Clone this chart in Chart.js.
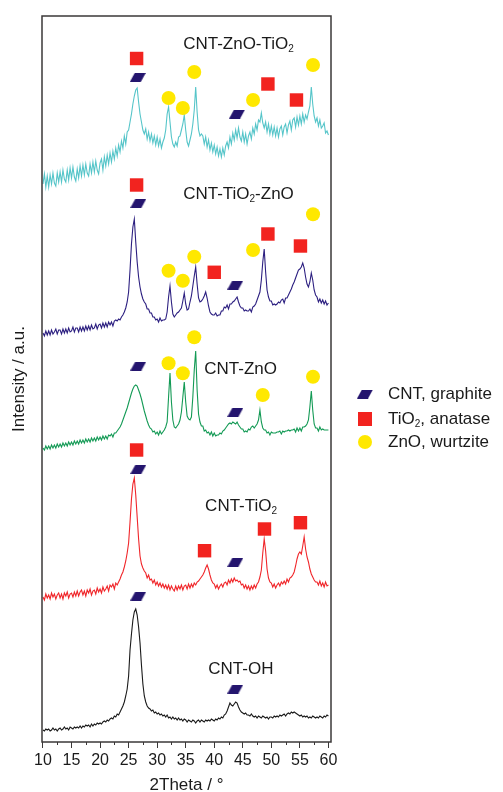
<!DOCTYPE html>
<html>
<head>
<meta charset="utf-8">
<script src="https://cdn.jsdelivr.net/npm/chart.js@4.4.1/dist/chart.umd.min.js"></script>
<style>
  html, body { margin: 0; padding: 0; background: #fff; }
  #wrap { width: 503px; height: 792px; }
</style>
</head>
<body>
<div id="wrap"><canvas id="xrd" width="503" height="792"></canvas></div>
<script>
// 2Theta grid (degrees)
const twoTheta = [
  10,10.25,10.5,10.75, 11,11.25,11.5,11.75, 12,12.25,12.5,12.75, 13,13.25,13.5,13.75,
  14,14.25,14.5,14.75, 15,15.25,15.5,15.75, 16,16.25,16.5,16.75, 17,17.25,17.5,17.75,
  18,18.25,18.5,18.75, 19,19.25,19.5,19.75, 20,20.25,20.5,20.75, 21,21.25,21.5,21.75,
  22,22.25,22.5,22.75, 23,23.25,23.5,23.75, 24,24.25,24.5,24.75, 25,25.25,25.5,25.75,
  26,26.25,26.5,26.75, 27,27.25,27.5,27.75, 28,28.25,28.5,28.75, 29,29.25,29.5,29.75,
  30,30.25,30.5,30.75, 31,31.25,31.5,31.75, 32,32.25,32.5,32.75, 33,33.25,33.5,33.75,
  34,34.25,34.5,34.75, 35,35.25,35.5,35.75, 36,36.25,36.5,36.75, 37,37.25,37.5,37.75,
  38,38.25,38.5,38.75, 39,39.25,39.5,39.75, 40,40.25,40.5,40.75, 41,41.25,41.5,41.75,
  42,42.25,42.5,42.75, 43,43.25,43.5,43.75, 44,44.25,44.5,44.75, 45,45.25,45.5,45.75,
  46,46.25,46.5,46.75, 47,47.25,47.5,47.75, 48,48.25,48.5,48.75, 49,49.25,49.5,49.75,
  50,50.25,50.5,50.75, 51,51.25,51.5,51.75, 52,52.25,52.5,52.75, 53,53.25,53.5,53.75,
  54,54.25,54.5,54.75, 55,55.25,55.5,55.75, 56,56.25,56.5,56.75, 57,57.25,57.5,57.75,
  58,58.25,58.5,58.75, 59,59.25,59.5,59.75, 60
];

// stacked intensities (a.u., offset per sample)
const cntOH = [
  12,11,13,12, 13,11,12,14, 12,13,11,13, 14,12,13,15, 13,14,12,15, 14,13,15,14,
  15,14,16,14, 16,15,17,16, 17,15,18,16, 18,17,19,18, 19,18,20,21, 20,22,21,23,
  24,23,26,25, 28,27,30,33, 36,40,46,53, 66,92,108,122, 130,133,127,115, 99,77,58,46,
  40,36,34,33, 31,32,29,30, 28,29,27,28, 26,27,25,27, 24,25,23,25, 23,24,22,24,
  22,23,21,23, 22,20,22,21, 20,22,21,19, 21,22,20,22, 21,20,22,21, 22,21,23,22,
  21,23,22,24, 23,25,24,27, 28,31,35,39, 37,36,38,40, 39,35,32,30, 29,28,29,27,
  27,26,28,26, 25,26,24,26, 25,24,26,25, 24,25,23,25, 25,24,26,25, 26,25,27,26,
  27,28,26,28, 29,28,30,29, 30,29,28,27, 26,27,25,26, 25,26,24,25, 24,26,25,24,
  25,24,26,25, 24,26,25,27, 26
];

const cntTiO2 = [
  145,142,148,144, 147,143,149,145, 148,143,147,149, 144,148,143,149, 146,150,144,148,
  149,145,150,146, 151,146,150,152, 147,151,146,152, 149,153,147,151, 152,148,154,150,
  153,149,155,151, 153,156,151,157, 155,158,153,159, 157,160,163,167, 170,175,181,189,
  199,220,243,258, 264,247,225,203, 186,178,174,171, 169,164,167,162, 163,159,162,157,
  160,156,159,155, 158,154,157,153, 157,152,156,153, 151,156,152,156, 153,157,152,156,
  157,153,158,154, 158,155,159,157, 160,161,163,165, 167,170,174,177, 173,167,162,159,
  158,154,157,153, 156,158,155,159, 160,157,162,159, 163,160,164,161, 162,160,161,157,
  158,154,157,153, 156,152,156,153, 157,154,158,160, 165,172,189,203, 191,173,164,160,
  159,155,158,154, 157,159,156,160, 158,161,158,163, 160,164,165,167, 170,176,183,188,
  190,188,196,205, 193,185,180,173, 168,165,162,160, 160,157,161,156, 159,155,160,156,
  157
];

const cntZnO = [
  294,292,296,293, 296,293,297,294, 297,294,298,295, 298,295,299,296, 299,296,300,297,
  300,297,301,298, 301,298,302,299, 302,299,303,300, 303,300,304,301, 304,301,305,302,
  305,302,306,303, 306,303,307,306, 308,305,309,309, 311,313,315,318, 322,326,330,334,
  339,344,349,353, 356,357,356,352, 348,343,337,331, 326,321,317,314, 313,310,311,308,
  310,307,311,308, 310,312,315,320, 345,369,340,322, 315,314,316,318, 322,330,345,360,
  340,326,323,322, 325,345,372,391, 352,328,320,316, 316,311,312,309, 310,307,310,306,
  309,306,307,307, 309,308,311,312, 314,316,318,319, 318,320,319,318, 320,317,315,313,
  313,310,311,310, 313,312,315,316, 314,316,318,322, 332,320,314,312, 312,309,310,307,
  310,309,309,309, 310,310,311,308, 311,310,311,311, 312,311,312,312, 313,310,314,311,
  314,311,315,315, 316,318,322,335, 351,332,318,314, 314,311,315,312, 313,312,312,312,
  312
];

const cntTiO2ZnO = [
  409,406,411,407, 411,407,412,408, 410,413,408,412, 412,408,413,409, 413,409,414,410,
  411,415,410,414, 414,410,415,411, 415,411,416,412, 416,412,417,413, 414,418,413,417,
  418,414,419,415, 419,415,420,417, 420,416,421,422, 421,423,422,425, 427,430,434,440,
  450,472,498,515, 523,500,480,465, 455,448,443,440, 438,433,433,429, 429,425,425,422,
  423,420,424,421, 422,422,423,430, 445,456,440,428, 425,427,429,430, 432,434,441,449,
  438,432,433,440, 446,456,466,475, 458,444,440,441, 443,446,450,444, 436,430,428,427,
  427,429,426,427, 427,431,431,435, 434,437,433,438, 438,440,441,443, 445,440,436,434,
  434,431,432,431, 431,433,430,435, 436,438,442,446, 450,462,480,493, 470,452,445,441,
  441,437,438,437, 438,440,439,442, 443,439,444,444, 447,450,453,457, 460,464,468,472,
  473,475,479,474, 465,458,455,460, 469,462,452,447, 445,440,443,439, 442,438,441,437,
  439
];

const cntZnOTiO2 = [
  558,568,555,566, 555,567,558,569, 559,556,569,560, 570,560,572,563, 560,572,562,574,
  564,575,565,561, 573,564,576,566, 577,567,578,569, 566,578,569,580, 570,581,572,568,
  579,583,572,585, 576,587,578,589, 580,591,583,594, 586,597,590,601, 594,606,598,610,
  612,620,628,638, 646,652,654,640, 628,620,612,608, 613,603,610,601, 608,599,606,597,
  605,596,603,594, 600,604,612,628, 635,620,605,598, 595,600,596,605, 606,612,618,627,
  612,600,596,602, 608,618,632,655, 630,612,606,608, 606,598,605,595, 602,592,599,590,
  597,588,595,586, 593,585,594,587, 596,600,594,605, 598,609,602,612, 604,614,605,601,
  610,600,608,598, 606,610,603,614, 608,618,612,622, 620,629,619,614, 620,610,618,608,
  616,607,615,606, 614,605,613,616, 607,615,618,609, 617,621,612,622, 624,615,625,617,
  626,618,628,620, 627,623,630,636, 655,638,626,620, 624,616,622,614, 616,619,609,611,
  607
];

// phase markers [2Theta, height]
const graphiteMarks = [
  [26.6, 664.5], [44.0, 628],
  [26.7, 538.7], [43.7, 457],
  [26.7, 376], [43.7, 329.7],
  [26.7, 272.7], [43.7, 179.7],
  [26.7, 146], [43.7, 53]
];
const anataseMarks = [
  [26.4, 683.5], [49.4, 658], [54.4, 642],
  [26.4, 557], [40.0, 469.7], [49.4, 508], [55.1, 496],
  [26.4, 292], [38.3, 191.3], [48.8, 213], [55.1, 219.3]
];
const wurtziteMarks = [
  [32.0, 644], [34.5, 634], [36.5, 670], [46.8, 642], [57.3, 677],
  [32.0, 471.3], [34.5, 461.3], [36.5, 485.3], [46.8, 492], [57.3, 527.7],
  [32.0, 378.7], [34.5, 368.7], [36.5, 404.7], [48.5, 347], [57.3, 365.3]
];

const sampleNames = ['CNT-OH', 'CNT-TiO_2', 'CNT-ZnO', 'CNT-TiO_2-ZnO', 'CNT-ZnO-TiO_2'];
const sampleColors = ['#1a1a1a', '#f0262a', '#139a55', '#2c1f80', '#55c5c9'];
const legendNames = ['CNT, graphite', 'TiO_2, anatase', 'ZnO, wurtzite'];

const FONT = '"Liberation Sans", Arial, Helvetica, sans-serif';
const NAVY = '#24156e';
const RED = '#f2231f';
const YELLOW = '#ffe800';

// where the sample names sit (data coords)
const nameSpots = [
  { x: 38.95, y: 73 },
  { x: 38.4, y: 236 },
  { x: 38.25, y: 373 },
  { x: 34.55, y: 548 },
  { x: 34.55, y: 698 }
];

// parallelogram marker for graphite
const para = document.createElement('canvas');
para.width = 16; para.height = 9;
(function () {
  const c = para.getContext('2d');
  c.fillStyle = NAVY;
  c.beginPath();
  c.moveTo(5, 0); c.lineTo(16, 0); c.lineTo(11, 9); c.lineTo(0, 9);
  c.closePath(); c.fill();
})();

function drawChem(ctx, str, x, y, size) {
  const parts = str.split(/_(\d)/);
  let cx = x;
  parts.forEach((p, i) => {
    if (!p) return;
    const sub = i % 2 === 1;
    ctx.font = (sub ? Math.round(size * 0.6) : size) + 'px ' + FONT;
    ctx.fillText(p, cx, sub ? y + size * 0.32 : y);
    cx += ctx.measureText(p).width;
  });
}

const series = [cntOH, cntTiO2, cntZnO, cntTiO2ZnO, cntZnOTiO2];
const lineSets = series.map((vals, i) => ({
  type: 'line',
  label: sampleNames[i],
  data: twoTheta.map((t, j) => ({ x: t, y: vals[j] })),
  borderColor: sampleColors[i],
  borderWidth: 1.1,
  pointRadius: 0,
  tension: 0,
  order: 2
}));

const markSet = (marks, style, radius, color) => ({
  type: 'scatter',
  data: marks.map(m => ({ x: m[0], y: m[1] })),
  pointStyle: style,
  pointRadius: radius,
  pointBackgroundColor: color,
  pointBorderWidth: 0,
  order: 0
});

const extras = {
  id: 'extras',
  afterDraw(chart) {
    const { ctx, chartArea: a, scales: { x, y } } = chart;
    ctx.save();
    // frame
    ctx.strokeStyle = '#3b3838';
    ctx.lineWidth = 1.5;
    ctx.strokeRect(a.left, a.top, a.right - a.left, a.bottom - a.top);
    // minor ticks
    ctx.lineWidth = 1;
    ctx.beginPath();
    for (let v = 12.5; v < 60; v += 5) {
      const px = Math.round(x.getPixelForValue(v)) + 0.5;
      ctx.moveTo(px, a.bottom);
      ctx.lineTo(px, a.bottom + 3);
    }
    ctx.stroke();
    // sample names
    ctx.fillStyle = '#1a1a1a';
    ctx.textBaseline = 'middle';
    ctx.textAlign = 'left';
    nameSpots.forEach((s, i) => {
      drawChem(ctx, sampleNames[i], x.getPixelForValue(s.x), y.getPixelForValue(s.y), 17);
    });
    // legend
    const lx = 365, ty = [394, 419, 442];
    ctx.drawImage(para, lx - 8, ty[0] - 4.5);
    ctx.fillStyle = RED;
    ctx.fillRect(lx - 7, ty[1] - 7, 14, 14);
    ctx.fillStyle = YELLOW;
    ctx.beginPath();
    ctx.arc(lx, ty[2], 7, 0, Math.PI * 2);
    ctx.fill();
    ctx.fillStyle = '#1a1a1a';
    legendNames.forEach((t, i) => drawChem(ctx, t, 388, ty[i], 17));
    ctx.restore();
  }
};

new Chart(document.getElementById('xrd'), {
  type: 'line',
  data: {
    datasets: [
      markSet(graphiteMarks, para, 8, NAVY),
      markSet(anataseMarks, 'rect', 9.5, RED),
      markSet(wurtziteMarks, 'circle', 7, YELLOW),
      ...lineSets
    ]
  },
  options: {
    responsive: false,
    animation: false,
    layout: { padding: { top: 16, right: 172, left: 0, bottom: 0 } },
    plugins: { legend: { display: false }, tooltip: { enabled: false } },
    scales: {
      x: {
        type: 'linear',
        min: 9.83,
        max: 60.45,
        afterFit: s => { s.height = 50; },
        border: { display: false },
        grid: { drawOnChartArea: false, tickLength: 6, tickColor: '#3b3838', tickWidth: 1 },
        ticks: {
          stepSize: 5,
          includeBounds: false,
          autoSkip: false,
          maxRotation: 0,
          color: '#1a1a1a',
          font: { family: FONT, size: 16 },
          padding: 3
        },
        title: {
          display: true,
          text: '2Theta / °',
          color: '#1a1a1a',
          font: { family: FONT, size: 17, lineHeight: 1 },
          padding: { top: 0, bottom: -2 }
        }
      },
      y: {
        min: 0,
        max: 726,
        afterFit: s => { s.width = 42; },
        border: { display: false },
        grid: { display: false },
        ticks: { display: false },
        title: {
          display: true,
          text: 'Intensity / a.u.',
          color: '#1a1a1a',
          font: { family: FONT, size: 17, lineHeight: 1 },
          padding: { top: 10.5, bottom: 0 }
        }
      }
    }
  },
  plugins: [extras]
});
</script>
</body>
</html>
